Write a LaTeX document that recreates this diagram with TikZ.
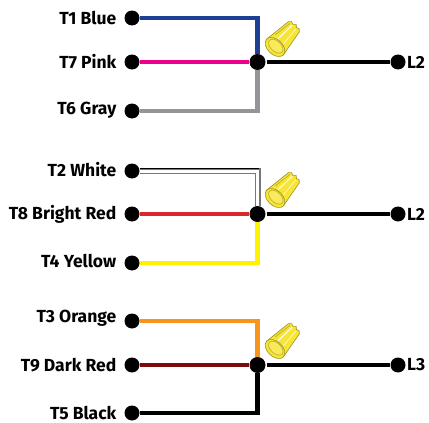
\documentclass[tikz,border=0pt]{standalone}
\usepackage{fontspec}
\setmainfont{Fira Sans}
\definecolor{wblue}{HTML}{1F3F94}
\definecolor{wpink}{HTML}{EC008C}
\definecolor{wgray}{HTML}{939598}
\definecolor{wred}{HTML}{D9272E}
\definecolor{wyellow}{HTML}{FFF200}
\definecolor{worange}{HTML}{F7941D}
\definecolor{wdark}{HTML}{7A0C10}
\definecolor{nutfill}{HTML}{F8E533}
\definecolor{nutedge}{HTML}{9C9226}
\tikzset{%
    vtx/.style={inner sep=0pt,minimum size=15pt,circle,fill=black},
    jct/.style={inner sep=0pt,minimum size=16pt,circle,fill=black},
    lbl/.style={anchor=east,font=\bfseries\fontsize{17.5}{17.5}\selectfont,inner sep=0pt},
    rlbl/.style={anchor=west,font=\bfseries\fontsize{17.5}{17.5}\selectfont,inner sep=0pt},
    wire/.style={line width=4.4pt},
    nut/.pic={
        \begin{scope}[rotate=47,scale=1.15,nutedge,line width=.6pt]
            \filldraw[fill=nutfill] (0,-10) -- (24,-6.5) -- (26,-4.5) -- (25,-2) -- (27,0) -- (25,2) -- (26,4.5) -- (24,6.5) -- (0,10) -- cycle;
            \draw[white,line width=1pt] (7,-3) -- (24,-2);
            \draw[white!70!nutfill,line width=.8pt] (7,3.5) -- (24,2.5);
            \draw[nutedge!60!nutfill,line width=.8pt] (8,-7) -- (24,-4.5);
            \filldraw[fill=nutfill] (0,0) ellipse (6.5 and 10);
            \filldraw[fill=nutfill!80!white,draw=nutedge!70!nutfill] (1,0) ellipse (4.5 and 7.5);
        \end{scope}
    }
}

\begin{document}
\begin{tikzpicture}[x=1pt,y=-1pt]
        \useasboundingbox (0,0) rectangle (429,423);

        \node[vtx] (t1) at (132,18){};
        \node[vtx] (t7) at (132,62){};
        \node[vtx] (t6) at (132,111){};
        \node[jct] (j1) at (257.5,62){};
        \node[vtx] (l1) at (398,62){};

        \node[vtx] (t2) at (132,171){};
        \node[vtx] (t8) at (132,214){};
        \node[vtx] (t4) at (132,263){};
        \node[jct] (j2) at (257.5,214){};
        \node[vtx] (l2) at (398,214){};

        \node[vtx] (t3) at (132,321){};
        \node[vtx] (t9) at (132,365){};
        \node[vtx] (t5) at (132,413){};
        \node[jct] (j3) at (257.5,365){};
        \node[vtx] (l3) at (398,365){};

        \node[lbl] (n1) at (116.5,18) {T1 Blue};
        \node[lbl] (n7) at (116.5,62) {T7 Pink};
        \node[lbl] (n6) at (116.5,110) {T6 Gray};
        \node[lbl] (n2) at (116.5,170) {T2 White};
        \node[lbl] (n8) at (116.5,214) {T8 Bright Red};
        \node[lbl] (n4) at (116.5,261) {T4 Yellow};
        \node[lbl] (n3) at (116.5,318) {T3 Orange};
        \node[lbl] (n9) at (116.5,365) {T9 Dark Red};
        \node[lbl] (n5) at (116.5,413) {T5 Black};
        \node[rlbl] (m1) at (407,62) {L2};
        \node[rlbl] (m2) at (407,214) {L2};
        \node[rlbl] (m3) at (407,365) {L3};

        \draw[wire,wblue] (t1) -| (j1);
        \draw[wire,wpink] (t7) -- (j1);
        \draw[wire,wgray] (t6) -| (j1);
        \draw[wire,shorten <=1pt] (j1) -- (l1);

        \draw[wgray!80!black,line width=6pt] (t2) -| (j2);
        \draw[white,line width=3pt] (t2) -| (j2);
        \draw[black,line width=1pt] ([yshift=2.6pt]t2.east) -- ++(119.3,0);
        \draw[wred,wire] (t8) -- (j2);
        \draw[wire,wyellow] (t4) -| (j2);
        \draw[wire,shorten <=1pt] (j2) -- (l2);

        \draw[wire,worange] (t3) -| (j3);
        \draw[wire,wdark] (t9) -- (j3);
        \draw[wire] (t5) -| (j3);
        \draw[wire,shorten <=1pt] (j3) -- (l3);

        \pic at (275,47) {nut};
        \pic at (275,198) {nut};
        \pic at (275,349) {nut};
    \end{tikzpicture}
\end{document}
